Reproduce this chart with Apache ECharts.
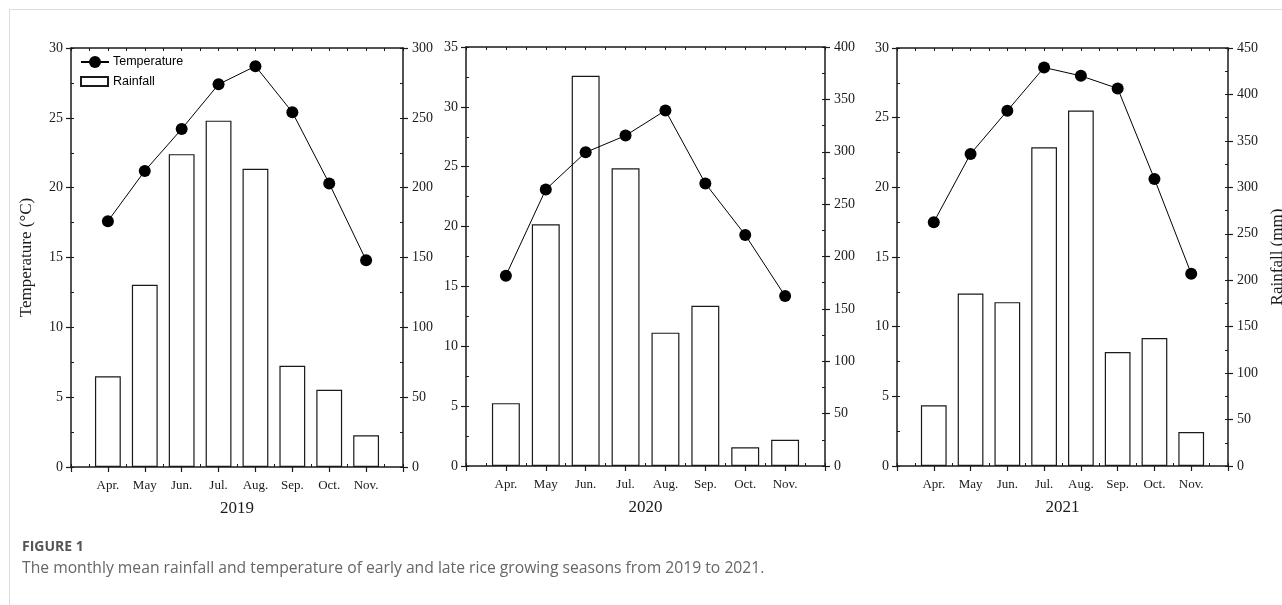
<!DOCTYPE html>
<html>
<head>
<meta charset="utf-8">
<script src="https://cdn.jsdelivr.net/npm/echarts@6/dist/echarts.min.js"></script>
<style>
  html, body { margin: 0; padding: 0; background: #fff; overflow: hidden; }
  #frame { position: absolute; left: 9px; top: 9px; width: 1400px; height: 700px;
           border-left: 1.5px solid #dcdcdc; border-top: 1.5px solid #dcdcdc; }
  #chart { position: absolute; left: 0; top: 0; width: 1282px; height: 605px; }
</style>
</head>
<body>
<div id="frame"></div>
<div id="chart"></div>
<script>
// Months of the rice growing season
const months = ['Apr.', 'May', 'Jun.', 'Jul.', 'Aug.', 'Sep.', 'Oct.', 'Nov.'];
const years = ['2019', '2020', '2021'];

// Monthly mean temperature (°C)
const temp2019 = [17.6, 21.2, 24.2, 27.4, 28.7, 25.4, 20.3, 14.8];
const temp2020 = [15.9, 23.1, 26.2, 27.6, 29.7, 23.6, 19.3, 14.2];
const temp2021 = [17.5, 22.4, 25.5, 28.6, 28.0, 27.1, 20.6, 13.8];

// Monthly rainfall (mm)
const rain2019 = [65, 130.5, 224, 248, 213.5, 72.5, 55.3, 22.7];
const rain2020 = [60, 230.7, 372.6, 284.2, 127.3, 153, 17.8, 25.1];
const rain2021 = [65.3, 185.7, 176.4, 343.2, 382.6, 122.6, 137.7, 36.6];

// Axis ranges (tick step 5 °C and 50 mm)
const tempMax = [30, 35, 30];
const rainMax = [300, 400, 450];

const temps = [temp2019, temp2020, temp2021];
const rains = [rain2019, rain2020, rain2021];

const serif = 'Liberation Serif';
const sans = 'Liberation Sans';
const ink = '#1a1a1a';

const grids = [
  { left: 71, top: 48, width: 332, height: 419 },
  { left: 466, top: 47, width: 359, height: 419 },
  { left: 897, top: 48, width: 331, height: 418 }
];

const xAxis = [];
const yAxis = [];
const series = [];

grids.forEach((g, i) => {
  // bottom axis with month labels
  xAxis.push({
    type: 'value', gridIndex: i, position: 'bottom', min: 0, max: 9, interval: 1,
    name: years[i], nameLocation: 'middle', nameGap: 33,
    nameTextStyle: { fontFamily: serif, fontSize: 17, color: ink },
    axisLine: { show: true, onZero: false, lineStyle: { color: ink, width: 1.5 } },
    axisTick: { show: true, length: 5, lineStyle: { color: ink, width: 1.2 } },
    axisLabel: { margin: 12, fontFamily: serif, fontSize: 13, color: ink,
                 formatter: v => months[v - 1] || '' },
    splitLine: { show: false }
  });
  // top frame axis with inward ticks
  xAxis.push({
    type: 'value', gridIndex: i, position: 'top', min: 0, max: 9, interval: 0.5,
    axisLine: { show: true, onZero: false, lineStyle: { color: ink, width: 1.5 } },
    axisTick: { show: true, inside: true, length: 3, lineStyle: { color: ink, width: 1 } },
    axisLabel: { show: false }, splitLine: { show: false }
  });
  // inward half-step ticks on the bottom edge
  xAxis.push({
    type: 'value', gridIndex: i, position: 'bottom', offset: 0, min: 0, max: 9, interval: 0.5,
    axisLine: { show: false, onZero: false },
    axisTick: { show: true, inside: true, length: 3, lineStyle: { color: ink, width: 1 } },
    axisLabel: { show: false }, splitLine: { show: false }
  });

  // left temperature axis
  yAxis.push({
    type: 'value', gridIndex: i, position: 'left', min: 0, max: tempMax[i], interval: 5,
    name: i === 0 ? 'Temperature (°C)' : '', nameLocation: 'middle', nameGap: 36,
    nameTextStyle: { fontFamily: serif, fontSize: 17, color: ink },
    axisLine: { show: true, onZero: false, lineStyle: { color: ink, width: 1.5 } },
    axisTick: { show: true, length: 5, lineStyle: { color: ink, width: 1.2 } },
    axisLabel: { margin: 8, fontFamily: serif, fontSize: 14, color: ink },
    splitLine: { show: false }
  });
  // right rainfall axis
  yAxis.push({
    type: 'value', gridIndex: i, position: 'right', min: 0, max: rainMax[i], interval: 50,
    name: i === 2 ? 'Rainfall (mm)' : '', nameLocation: 'middle', nameGap: 41,
    nameTextStyle: { fontFamily: serif, fontSize: 17, color: ink },
    axisLine: { show: true, onZero: false, lineStyle: { color: ink, width: 1.5 } },
    axisTick: { show: true, length: 5, lineStyle: { color: ink, width: 1.2 } },
    axisLabel: { margin: 9, fontFamily: serif, fontSize: 14, color: ink },
    splitLine: { show: false }
  });
  // inward minor ticks, left and right
  yAxis.push({
    type: 'value', gridIndex: i, position: 'left', offset: 0, min: 0, max: tempMax[i], interval: 2.5,
    axisLine: { show: false, onZero: false },
    axisTick: { show: true, inside: true, length: 3, lineStyle: { color: ink, width: 1 } },
    axisLabel: { show: false }, splitLine: { show: false }
  });
  yAxis.push({
    type: 'value', gridIndex: i, position: 'right', offset: 0, min: 0, max: rainMax[i], interval: 25,
    axisLine: { show: false, onZero: false },
    axisTick: { show: true, inside: true, length: 3, lineStyle: { color: ink, width: 1 } },
    axisLabel: { show: false }, splitLine: { show: false }
  });

  series.push({
    name: 'Rainfall', type: 'bar', xAxisIndex: 3 * i, yAxisIndex: 4 * i + 1,
    barWidth: '70%', z: 1,
    itemStyle: { color: '#fff', borderColor: ink, borderWidth: 1.2 },
    data: rains[i].map((v, k) => [k + 1, v])
  });
  series.push({
    name: 'Temperature', type: 'line', xAxisIndex: 3 * i, yAxisIndex: 4 * i, z: 3,
    symbol: 'circle', symbolSize: 12,
    itemStyle: { color: '#000' },
    lineStyle: { color: '#000', width: 1 },
    data: temps[i].map((v, k) => [k + 1, v])
  });
});

const chart = echarts.init(document.getElementById('chart'), null, { renderer: 'canvas' });
chart.setOption({
  backgroundColor: 'transparent',
  animation: false,
  grid: grids.map(g => Object.assign({ containLabel: false, outerBoundsMode: 'none' }, g)),
  xAxis, yAxis, series,
  legend: [
    {
      data: ['Temperature'], left: 80, top: 55.5, padding: 0, orient: 'vertical',
      itemWidth: 28, itemHeight: 15, itemGap: 0, selectedMode: false,
      textStyle: { fontFamily: sans, fontSize: 12.5, color: '#000', padding: [0, 0, 0, -1] }
    },
    {
      data: [{ name: 'Rainfall', icon: 'rect' }], left: 80, top: 75, padding: 0, orient: 'vertical',
      itemWidth: 27, itemHeight: 9, itemGap: 0, selectedMode: false,
      textStyle: { fontFamily: sans, fontSize: 12.5, color: '#000' }
    }
  ],
  graphic: [
    { type: 'text', left: 22, top: 540,
      style: { text: 'FIGURE 1', font: 'bold 14px "Open Sans"', fill: '#555' } },
    { type: 'text', left: 22, top: 561,
      style: { text: 'The monthly mean rainfall and temperature of early and late rice growing seasons from 2019 to 2021.',
               font: '15.7px "Open Sans"', fill: '#666' } }
  ]
});
</script>
</body>
</html>
